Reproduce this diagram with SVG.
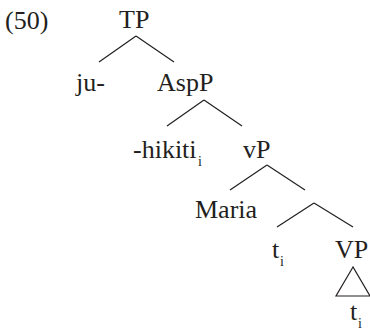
<svg xmlns="http://www.w3.org/2000/svg" width="370" height="334" viewBox="0 0 370 334">
<style>
text{font-family:"Liberation Serif","Times New Roman",serif;font-size:26px;fill:#231f20}
.sub{font-size:14px}
line,polygon{stroke:#231f20;stroke-width:1.2;fill:none}
</style>
<rect width="370" height="334" fill="#fff"/>
<text x="5" y="29">(50)</text>
<g id="connectors">
<line x1="136" y1="36" x2="99" y2="62"/>
<line x1="136" y1="36" x2="174" y2="62"/>
<line x1="204" y1="100" x2="167" y2="126"/>
<line x1="204" y1="100" x2="242" y2="126"/>
<line x1="267" y1="165" x2="230" y2="190"/>
<line x1="267" y1="165" x2="305" y2="190"/>
<line x1="314" y1="203" x2="277" y2="227"/>
<line x1="314" y1="203" x2="353" y2="227"/>
<polygon points="353,267 336,296 370,296"/>
</g>
<g id="TP"><text x="119" y="28">TP</text></g>
<g id="ju"><text x="76" y="91">ju-</text></g>
<g id="AspP"><text x="157" y="91">AspP</text></g>
<g id="hikiti"><text x="133" y="158">-hikiti</text><text class="sub" x="198" y="166">i</text></g>
<g id="vP"><text x="243" y="158">vP</text></g>
<g id="Maria"><text x="195" y="218">Maria</text></g>
<g id="t1"><text x="272" y="258">t</text><text class="sub" x="280" y="266">i</text></g>
<g id="VP"><text x="335" y="258">VP</text></g>
<g id="t2"><text x="350" y="320">t</text><text class="sub" x="358" y="328">i</text></g>
</svg>
